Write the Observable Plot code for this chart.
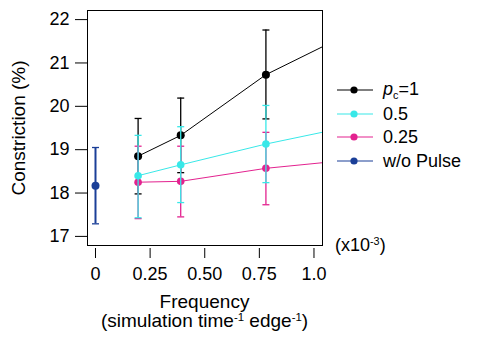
<!DOCTYPE html>
<html><head><meta charset="utf-8">
<script src="https://cdn.jsdelivr.net/npm/d3@7"></script>
<script src="https://cdn.jsdelivr.net/npm/@observablehq/plot@0.6"></script>
<style>
body{margin:0;background:#fff;font-family:"Liberation Sans",Arial,sans-serif;}
#wrap{position:relative;width:500px;height:342px;}
#wrap > svg{position:absolute;left:0;top:0;}
.abs{position:absolute;color:#000;white-space:nowrap;}
sup{font-size:60%;vertical-align:baseline;position:relative;top:-0.55em;}
.leg{position:absolute;left:337px;font-size:18px;line-height:18px;}
.leg div{height:23.7px;display:flex;align-items:center;}
.leg svg{margin-right:10px;}
</style></head>
<body><div id="wrap"></div>
<script>
const freq = [0.195, 0.39, 0.78, 1.56];
const pc1 = [18.85, 19.33, 20.73, 22.67];
const pc1Lo = [17.98, 18.47, 19.71];
const pc1Hi = [19.72, 20.19, 21.76];
const pc05 = [18.40, 18.65, 19.13, 19.95];
const pc05Lo = [17.43, 17.78, 18.24];
const pc05Hi = [19.33, 19.53, 20.02];
const pc025 = [18.25, 18.27, 18.57, 18.96];
const pc025Lo = [17.41, 17.45, 17.73];
const pc025Hi = [19.08, 19.08, 19.40];
const noPulseX = [0];
const noPulse = [18.17];
const noPulseLo = [17.29];
const noPulseHi = [19.05];
const xTicks = [0, 0.25, 0.5, 0.75, 1.0];
const xTickLabels = ["0", "0.25", "0.50", "0.75", "1.0"];
const yTicks = [17, 18, 19, 20, 21, 22];

const colors = {pc1: "#000000", pc05: "#38e8e8", pc025: "#e3228f", none: "#1b3f98"};

function series(name, ys, lo, hi, xs) {
  return ys.map((y, i) => ({s: name, x: xs[i], y, lo: lo[i], hi: hi[i]}));
}
const S1 = series("pc1", pc1, pc1Lo, pc1Hi, freq);
const S05 = series("pc05", pc05, pc05Lo, pc05Hi, freq);
const S025 = series("pc025", pc025, pc025Lo, pc025Hi, freq);
const S0 = series("none", noPulse, noPulseLo, noPulseHi, noPulseX);

const cap = {draw(ctx, size){ const w = Math.sqrt(size/Math.PI); ctx.moveTo(-w,0); ctx.lineTo(w,0); }};

function layer(data, color, sw, r) {
  const eb = data.filter(d => d.lo != null);
  return [
    Plot.line(data, {x: "x", y: "y", stroke: color, strokeWidth: sw, clip: true}),
    Plot.ruleX(eb, {x: "x", y1: "lo", y2: "hi", stroke: color, strokeWidth: sw === 1 ? 1.3 : sw}),
    Plot.dot(eb, {x: "x", y: "lo", symbol: cap, r: 3.5, stroke: color, strokeWidth: 1.3}),
    Plot.dot(eb, {x: "x", y: "hi", symbol: cap, r: 3.5, stroke: color, strokeWidth: 1.3}),
    Plot.dot(data, {x: "x", y: "y", r: r, fill: color, clip: true})
  ];
}

const chart = Plot.plot({
  width: 500, height: 342,
  marginLeft: 87, marginRight: 178, marginTop: 10, marginBottom: 97,
  style: {fontFamily: "Liberation Sans, Arial, sans-serif", background: "transparent"},
  x: {domain: [-0.0366, 1.039]},
  y: {domain: [16.79, 22.21]},
  marks: [
    Plot.axisY({ticks: yTicks, tickSize: 12, tickPadding: 6, fontSize: 18, label: null, tickFormat: d => String(d)}),
    Plot.axisX({ticks: xTicks, tickSize: 10, dy: 3, tickPadding: 9, fontSize: 18, label: null,
      tickFormat: (d, i) => xTickLabels[xTicks.indexOf(d)]}),
    Plot.text(["Constriction (%)"], {frameAnchor: "left", dx: -69, rotate: -90, fontSize: 19, textAnchor: "middle", lineAnchor: "middle", fill: "#000"}),
    ...layer(S1, colors.pc1, 1, 4),
    ...layer(S025, colors.pc025, 1, 3.8),
    ...layer(S05, colors.pc05, 1, 3.8),
    ...layer(S0, colors.none, 2, 4),
    Plot.frame({stroke: "#000", strokeWidth: 1})
  ]
});
const wrap = document.getElementById("wrap");
wrap.appendChild(chart);

function add(html, css) { const d = document.createElement("div"); d.className = "abs"; d.innerHTML = html; Object.assign(d.style, css); wrap.appendChild(d); return d; }
add("Frequency<br>(simulation time<sup>-1</sup> edge<sup>-1</sup>)", {left: "87px", width: "235px", textAlign: "center", top: "292px", fontSize: "19px", lineHeight: "19px"});
add("(x10<sup>-3</sup>)", {left: "335px", top: "235px", fontSize: "18px", lineHeight: "20px"});

const legendItems = [
  {label: "<i>p</i><sub style='font-size:60%;position:relative;top:0.35em;vertical-align:baseline'>c</sub>=1", color: colors.pc1},
  {label: "0.5", color: colors.pc05},
  {label: "0.25", color: colors.pc025},
  {label: "w/o Pulse", color: colors.none}
];
const leg = document.createElement("div");
leg.className = "leg";
leg.style.top = "78px";
leg.innerHTML = legendItems.map(it =>
  `<div><svg width="36" height="10"><line x1="0" y1="5" x2="36" y2="5" stroke="${it.color}" stroke-width="1.2"/><circle cx="17" cy="5" r="3.6" fill="${it.color}"/></svg><span>${it.label}</span></div>`
).join("");
wrap.appendChild(leg);
</script></body></html>
